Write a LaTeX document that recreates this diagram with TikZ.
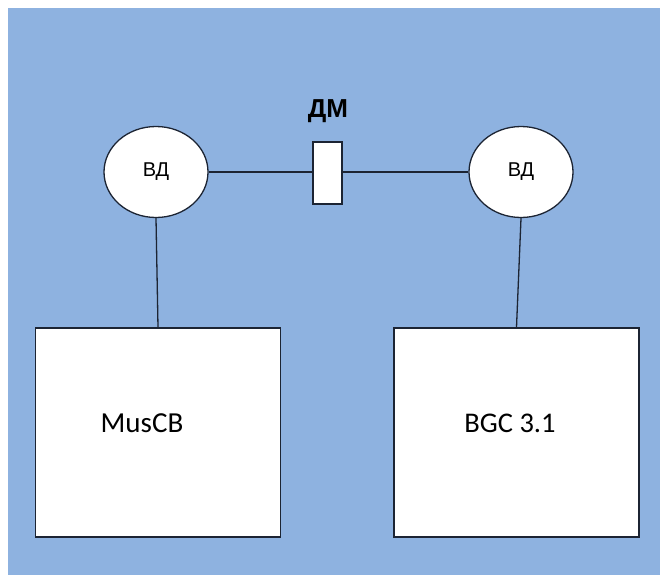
\documentclass[tikz,border=0pt]{standalone}
\usepackage{fontspec}
\setmainfont{Carlito}
\newfontfamily\arialfont{Liberation Sans}
\usetikzlibrary{shapes.geometric,positioning}
\definecolor{bgblue}{HTML}{8EB2E0}
\definecolor{edge}{HTML}{1C2433}

\begin{document}
\begin{tikzpicture}[x=1pt, y=-1pt,
                    drive/.style={ellipse, draw=edge, fill=white, line width=1.3pt,
                                  minimum width=104pt, minimum height=91pt, inner sep=0pt,
                                  font=\arialfont\fontsize{20}{20}\selectfont},
                    coupling/.style={rectangle, draw=edge, fill=white, line width=1.3pt,
                                     minimum width=29pt, minimum height=62pt, inner sep=0pt},
                    unit/.style={rectangle, draw=edge, fill=white, line width=1.6pt,
                                 minimum width=245pt, minimum height=209pt, inner sep=0pt},
                    wire/.style={draw=edge, line width=1.3pt}]
  \useasboundingbox (0,0) rectangle (660,575);
  \fill[bgblue] (8,8) rectangle (660,575);

  \node[drive] (vdl) at (156,172) {ВД};
  \node[drive] (vdr) at (521,172) {ВД};
  \node[coupling] (dm) at (327.5,173) {};
  \node[font=\arialfont\bfseries\fontsize{26}{26}\selectfont] (dmtxt) at (328,111) {ДМ};

  \node[unit] (musb) at (158,432.5) {};
  \node[unit] (bgcb) at (516.5,432.5) {};
  \node[font=\fontsize{29}{29}\selectfont] (mustxt) at (142,423) {MusCB};
  \node[font=\fontsize{28.5}{28.5}\selectfont] (bgctxt) at (510,423) {BGC 3.1};

  \draw[wire] (vdl.east) -- (dm.west |- vdl.east);
  \draw[wire] (dm.east |- vdr.west) -- (vdr.west);
  \draw[wire] (vdl.south) -- (musb.north);
  \draw[wire] (vdr.south) -- (bgcb.north);
\end{tikzpicture}
\end{document}
